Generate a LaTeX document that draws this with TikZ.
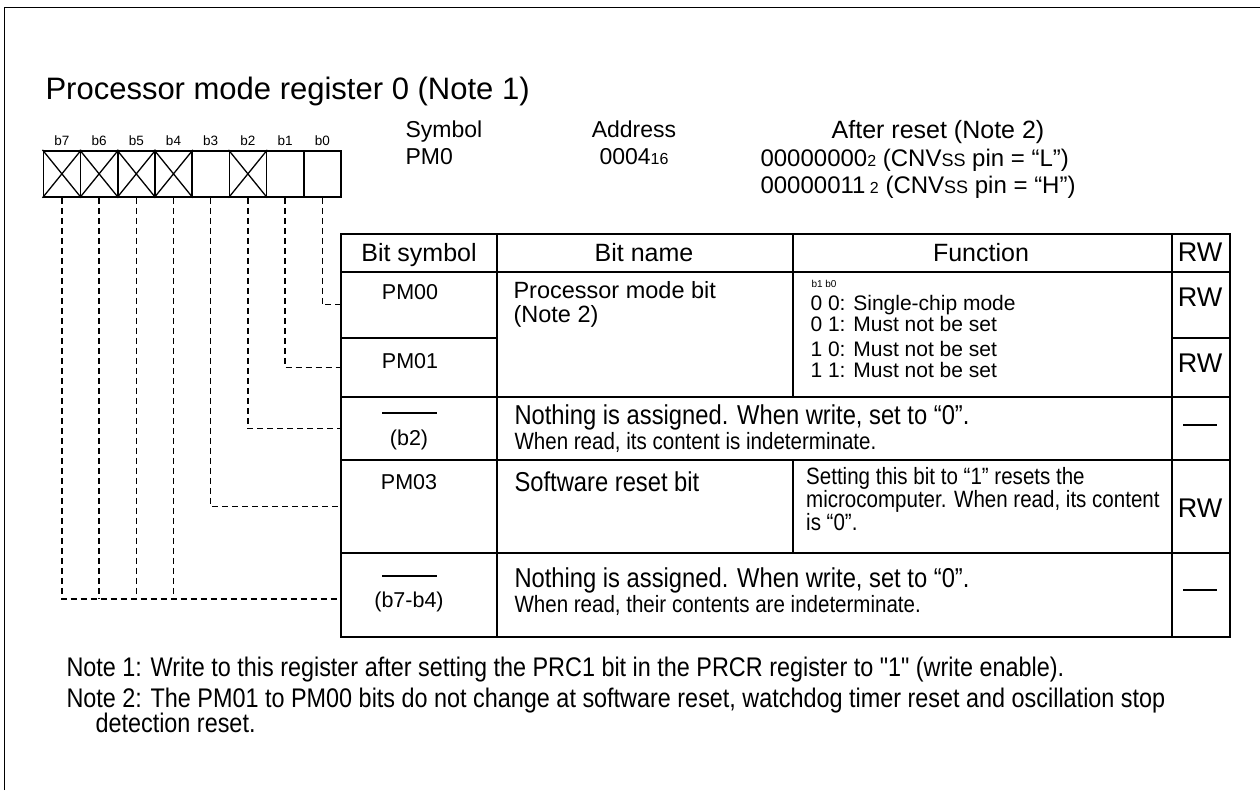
\documentclass[tikz,border=0pt]{standalone}
\usepackage{fontspec}
\setmainfont{Liberation Sans}
\newfontfamily\cond{Liberation Sans}[FakeStretch=0.87]
\newcommand{\fs}[1]{\fontsize{#1}{#1}\selectfont}
\begin{document}
\begin{tikzpicture}[x=1pt,y=-1pt,
  frame/.style={line width=1.8pt},
  bitbox/.style={draw, line width=1.6pt, minimum width=37.2pt, minimum height=46.3pt, inner sep=0pt},
  bitlbl/.style={anchor=base, font=\fs{13.5}},
  cell/.style={draw, line width=1.5pt, anchor=north west, inner sep=0pt},
  conn/.style={line width=1.3pt, dash pattern=on 6pt off 4pt},
  hdr/.style={anchor=base, font=\fs{25}},
  info/.style={anchor=base west, font=\fs{23}},
  infoc/.style={anchor=base, font=\fs{23}},
  txt/.style={anchor=base west, font=\fs{23.5}},
  ctxt/.style={anchor=base west, font=\cond\fs{27.3}},
  small/.style={anchor=base west, font=\cond\fs{23.6}},
  func/.style={anchor=base west, font=\fs{21}},
  sym/.style={anchor=base, font=\fs{21.5}},
  rw/.style={anchor=base, font=\fs{27}},
  dashmark/.style={anchor=center, inner sep=0pt},
  note/.style={anchor=base west, font=\cond\fs{26.9}}
]
\useasboundingbox (0,0) rectangle (1260,790);
\draw[frame] (4.5,790) -- (4.5,7.5) -- (1260,7.5);

\node[anchor=base west, font=\fs{31}] (title) at (42,99) {Processor mode register 0 (Note 1)};

% bit boxes
\foreach \n/\x in {b7/61.9,b6/99.1,b5/136.3,b4/173.5,b3/210.7,b2/247.9,b1/285.1,b0/322.3}{
  \node[bitbox] (\n) at (\x,173.85) {};
  \node[bitlbl] (l\n) at (\x,145) {\n};
}
\foreach \n in {b7,b6,b5,b4,b2}{
  \draw[line width=1.3pt] (\n.north west) -- (\n.south east) (\n.north east) -- (\n.south west);
}

% header info
\node[info] (symh) at (402,137) {Symbol};
\node[info] (symv) at (402,164) {PM0};
\node[infoc] (addrh) at (634,137) {Address};
\node[infoc] (addrv) at (634,164) {0004{\fs{16}16}};
\node[anchor=base, font=\fs{25}] (rsth) at (938,138) {After reset (Note 2)};
\node[anchor=base west, font=\fs{24}] (rst1) at (757,166) {00000000{\fs{16}2} (CNV{\fs{18}SS} pin = “L”)};
\node[anchor=base west, font=\fs{24}] (rst2) at (757,193) {00000011{\fs{16} 2} (CNV{\fs{18}SS} pin = “H”)};

% table cells
\node[cell, minimum width=156pt, minimum height=38pt] (h1) at (340,233) {};
\node[cell, minimum width=296pt, minimum height=38pt] (h2) at (496,233) {};
\node[cell, minimum width=379pt, minimum height=38pt] (h3) at (792,233) {};
\node[cell, minimum width=58pt, minimum height=38pt] (h4) at (1171,233) {};

\node[cell, minimum width=156pt, minimum height=66pt] (s0) at (340,271) {};
\node[cell, minimum width=156pt, minimum height=59pt] (s1) at (340,337) {};
\node[cell, minimum width=296pt, minimum height=125pt] (n01) at (496,271) {};
\node[cell, minimum width=379pt, minimum height=125pt] (f01) at (792,271) {};
\node[cell, minimum width=58pt, minimum height=66pt] (rw0) at (1171,271) {};
\node[cell, minimum width=58pt, minimum height=59pt] (rw1) at (1171,337) {};

\node[cell, minimum width=156pt, minimum height=63pt] (s2) at (340,396) {};
\node[cell, minimum width=675pt, minimum height=63pt] (n2) at (496,396) {};
\node[cell, minimum width=58pt, minimum height=63pt] (rw2) at (1171,396) {};

\node[cell, minimum width=156pt, minimum height=93pt] (s3) at (340,459) {};
\node[cell, minimum width=296pt, minimum height=93pt] (n3) at (496,459) {};
\node[cell, minimum width=379pt, minimum height=93pt] (f3) at (792,459) {};
\node[cell, minimum width=58pt, minimum height=93pt] (rw3) at (1171,459) {};

\node[cell, minimum width=156pt, minimum height=84pt] (s4) at (340,552) {};
\node[cell, minimum width=675pt, minimum height=84pt] (n4) at (496,552) {};
\node[cell, minimum width=58pt, minimum height=84pt] (rw4) at (1171,552) {};

% header texts
\node[hdr] (t1) at (419,261) {Bit symbol};
\node[hdr] (t2) at (644,261) {Bit name};
\node[hdr] (t3) at (981,261) {Function};
\node[rw] (t4) at (1200,261) {RW};

% PM00 / PM01
\node[sym] (pm00) at (410,299) {PM00};
\node[sym] (pm01) at (410,368) {PM01};
\node[txt] (pmn1) at (510,298) {Processor mode bit};
\node[txt] (pmn2) at (510,322) {(Note 2)};
\node[anchor=base west, font=\fs{10}] (fb) at (808,287) {b1 b0};
\node[func] (fa) at (807,310) {0 0: Single-chip mode};
\node[func] (fbb) at (807,331) {0 1: Must not be set};
\node[func] (fc) at (807,356) {1 0: Must not be set};
\node[func] (fd) at (807,377) {1 1: Must not be set};
\node[rw] (rwa) at (1200,306) {RW};
\node[rw] (rwb) at (1200,372) {RW};

% b2 row
\draw[line width=1.6pt] (382,413) -- (437,413);
\node[sym] (b2s) at (409,445) {(b2)};
\node[ctxt] (b2t1) at (511,424) {Nothing is assigned. When write, set to “0”.};
\node[small] (b2t2) at (511,449) {When read, its content is indeterminate.};
\node[dashmark] (d2) at (1200,425) {\rule{34pt}{1.8pt}};

% PM03 row
\node[sym] (pm03) at (409,489) {PM03};
\node[ctxt] (pm03n) at (511,491) {Software reset bit};
\node[anchor=north west, inner sep=0pt, align=left, font=\cond\fontsize{23.6}{21.5}\selectfont] (pm03f) at (806,467)
  {Setting this bit to “1” resets the\\microcomputer. When read, its content\\is “0”.};
\node[rw] (rwc) at (1200,517) {RW};

% b7-b4 row
\draw[line width=1.6pt] (382,576) -- (437,576);
\node[sym] (b74s) at (409,607) {(b7-b4)};
\node[ctxt] (b74t1) at (511,587) {Nothing is assigned. When write, set to “0”.};
\node[small] (b74t2) at (511,612) {When read, their contents are indeterminate.};
\node[dashmark] (d4) at (1200,590) {\rule{34pt}{1.8pt}};

% connectors
\draw[conn] (b0.south) |- (s0.west);
\draw[conn] (b1.south) |- (s1.west);
\draw[conn] (b2.south) |- (s2.west);
\draw[conn] (b3.south) |- (s3.west);
\coordinate (j47) at (b7.south |- 0,599);
\draw[conn] (b7.south) -- (j47) -- (j47 -| s4.west);
\draw[conn] (b6.south) -- (b6.south |- j47);
\draw[conn] (b5.south) -- (b5.south |- j47);
\draw[conn] (b4.south) -- (b4.south |- j47);

% notes
\node[note] (n1) at (63,676) {Note 1: Write to this register after setting the PRC1 bit in the PRCR register to "1" (write enable).};
\node[note] (n2) at (63,707) {Note 2: The PM01 to PM00 bits do not change at software reset, watchdog timer reset and oscillation stop};
\node[note] (n3) at (92,732) {detection reset.};
\end{tikzpicture}
\end{document}
